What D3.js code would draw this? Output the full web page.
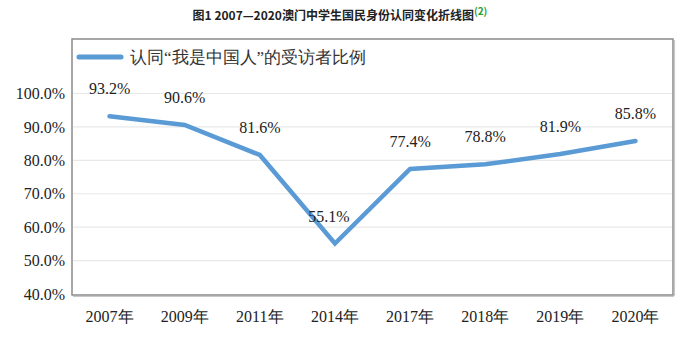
<!DOCTYPE html>
<html>
<head>
<meta charset="utf-8">
<script src="https://cdn.jsdelivr.net/npm/d3@7"></script>
<style>
  html, body { margin: 0; padding: 0; background: #fff; }
  svg { display: block; }
</style>
</head>
<body>
<svg id="chart" width="692" height="340"></svg>
<script>
// Survey years and share of respondents identifying as "我是中国人"
const years = ["2007年", "2009年", "2011年", "2014年", "2017年", "2018年", "2019年", "2020年"];
const shares = [93.2, 90.6, 81.6, 55.1, 77.4, 78.8, 81.9, 85.8];
const yTicks = [40, 50, 60, 70, 80, 90, 100];
const seriesName = "认同“我是中国人”的受访者比例";
const titleText = "图1 2007—2020澳门中学生国民身份认同变化折线图";
const titleNote = "(2)";

const svg = d3.select("#chart");
const serif = "Liberation Serif";
const blue = "#5b9bd5";

const frame = { left: 72, right: 673, top: 39, bottom: 295 };

const x = d3.scaleBand().domain(years).range([frame.left, frame.right]);
const y = d3.scaleLinear().domain([40, 100]).range([294, 93.5]);

// Title
const title = svg.append("text")
  .attr("x", 340).attr("y", 20)
  .attr("text-anchor", "middle")
  .attr("font-family", "Noto Sans CJK SC")
  .attr("font-size", 12).attr("font-weight", "bold").attr("fill", "#222");
title.append("tspan").text(titleText);
title.append("tspan").attr("dy", -5).attr("font-size", 10)
  .attr("fill", "#2ca02c").text(titleNote);

// Gridlines
svg.append("g")
  .selectAll("line")
  .data(yTicks.filter(d => d > 40))
  .join("line")
  .attr("x1", frame.left + 1).attr("x2", frame.right - 1)
  .attr("y1", d => y(d)).attr("y2", d => y(d))
  .attr("stroke", "#e8e8e8").attr("stroke-width", 1.2);

// Chart frame
svg.append("rect")
  .attr("x", frame.left).attr("y", frame.top)
  .attr("width", frame.right - frame.left).attr("height", frame.bottom - frame.top)
  .attr("fill", "none").attr("stroke", "#8a8a8a").attr("stroke-width", 1.5);
svg.append("line")
  .attr("x1", frame.left + 1).attr("x2", frame.right + 1)
  .attr("y1", frame.bottom + 1.5).attr("y2", frame.bottom + 1.5)
  .attr("stroke", "#c8c8c8").attr("stroke-width", 1.2);
svg.append("line")
  .attr("x1", frame.right + 1.5).attr("x2", frame.right + 1.5)
  .attr("y1", frame.top + 1).attr("y2", frame.bottom + 1)
  .attr("stroke", "#c8c8c8").attr("stroke-width", 1.2);

// Y axis labels
const yAxis = d3.axisLeft(y).tickValues(yTicks)
  .tickFormat(d => d.toFixed(1) + "%").tickSize(0).tickPadding(7);
svg.append("g")
  .attr("transform", `translate(${frame.left},0)`)
  .call(yAxis)
  .attr("font-family", serif).attr("font-size", 16)
  .call(g => g.select(".domain").remove())
  .call(g => g.selectAll("text").attr("fill", "#222"));

// X axis labels
const xAxis = d3.axisBottom(x).tickSize(0).tickPadding(16);
svg.append("g")
  .attr("transform", `translate(0,${frame.bottom})`)
  .call(xAxis)
  .attr("font-family", serif).attr("font-size", 16)
  .call(g => g.select(".domain").remove())
  .call(g => g.selectAll("text").attr("fill", "#222"));

// Series line
const cx = d => x(d) + x.bandwidth() / 2;
const line = d3.line()
  .x((d, i) => cx(years[i]))
  .y(d => y(d));
svg.append("path")
  .datum(shares)
  .attr("d", line)
  .attr("fill", "none")
  .attr("stroke", blue).attr("stroke-width", 4.5)
  .attr("stroke-linecap", "round").attr("stroke-linejoin", "miter");

// Value labels
svg.append("g")
  .attr("font-family", serif).attr("font-size", 16).attr("fill", "#222")
  .selectAll("text")
  .data(shares)
  .join("text")
  .attr("x", (d, i) => cx(years[i]) - (i === 3 ? 6 : 0))
  .attr("y", d => y(d) - 22)
  .attr("text-anchor", "middle")
  .text(d => d.toFixed(1) + "%");

// Legend
svg.append("line")
  .attr("x1", 79).attr("x2", 121)
  .attr("y1", 57).attr("y2", 57)
  .attr("stroke", blue).attr("stroke-width", 5)
  .attr("stroke-linecap", "round");
svg.append("text")
  .attr("x", 130).attr("y", 63)
  .attr("font-family", serif)
  .attr("font-size", 17).attr("fill", "#333")
  .text(seriesName);
</script>
</body>
</html>
